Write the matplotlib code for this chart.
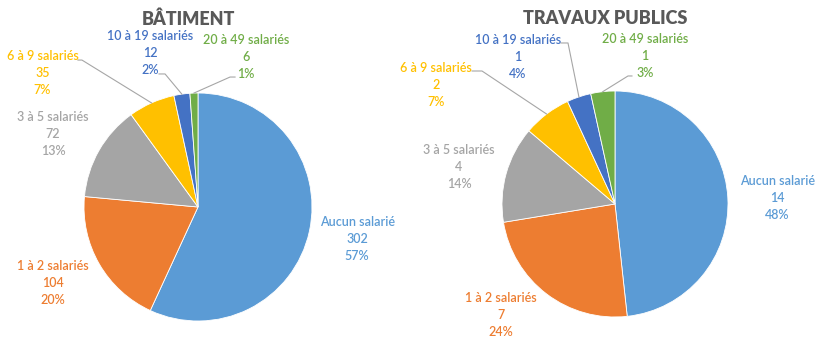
import numpy as np
import matplotlib
matplotlib.use("Agg")
import matplotlib.pyplot as plt

plt.rcParams['font.family'] = ['Lato', 'DejaVu Sans']

categories = ["Aucun salarié", "1 à 2 salariés", "3 à 5 salariés",
              "6 à 9 salariés", "10 à 19 salariés", "20 à 49 salariés"]
batiment_values = [302, 104, 72, 35, 12, 6]
batiment_pct = ["57%", "20%", "13%", "7%", "2%", "1%"]
tp_values = [14, 7, 4, 2, 1, 1]
tp_pct = ["48%", "24%", "14%", "7%", "4%", "3%"]

colors = ["#5B9BD5", "#ED7D31", "#A5A5A5", "#FFC000", "#4472C4", "#70AD47"]
W, H = 827, 347


def pie_panel(fig, title, title_xy, center, radius, values, pcts, label_pos, leaders):
    cx, cy = center
    ax = fig.add_axes([(cx - radius) / W, (H - cy - radius) / H,
                       2 * radius / W, 2 * radius / H])
    wedges, _ = ax.pie(values, colors=colors, startangle=90, counterclock=False,
                       wedgeprops=dict(edgecolor="white", linewidth=0.6))
    ax.set_xlim(-1, 1)
    ax.set_ylim(-1, 1)
    ax.set_aspect("equal")
    ax.axis("off")

    for i, (name, v, p) in enumerate(zip(categories, values, pcts)):
        lx, ly = label_pos[i]
        ax.text(lx, ly, f"{name}\n{v}\n{p}", color=colors[i], fontsize=9,
                fontweight="semibold", ha="center", va="center",
                linespacing=1.5, clip_on=False)
        if i in leaders:
            (ex, ey), (tx, ty) = leaders[i]
            mid = np.deg2rad((wedges[i].theta1 + wedges[i].theta2) / 2)
            ax.plot([np.cos(mid), ex, tx], [np.sin(mid), ey, ty],
                    color="#A6A6A6", lw=0.8, clip_on=False)

    fig.text(title_xy[0] / W, 1 - title_xy[1] / H, title, ha="center", va="center",
             fontsize=13, fontweight="heavy", color="#595959")


fig = plt.figure(figsize=(W / 100, H / 100), dpi=100)

pie_panel(fig, "BÂTIMENT", (188, 19), (198, 207), 114,
          batiment_values, batiment_pct,
          [(1.395, -0.281), (-1.272, -0.667), (-1.272, 0.640),
           (-1.364, 1.175), (-0.421, 1.351), (0.421, 1.316)],
          {3: ((-1.018, 1.289), (-1.053, 1.289)),
           4: ((-0.289, 1.167), (-0.342, 1.167)),
           5: ((0.281, 1.140), (0.325, 1.140))})

pie_panel(fig, "TRAVAUX PUBLICS", (605, 18), (615, 204), 113,
          tp_values, tp_pct,
          [(1.434, 0.053), (-1.009, -0.982), (-1.381, 0.327),
           (-1.584, 1.053), (-0.858, 1.301), (0.265, 1.310)],
          {3: ((-1.177, 1.177), (-1.265, 1.177)),
           4: ((-0.416, 1.425), (-0.478, 1.425)),
           5: ((0.115, 1.133), (0.150, 1.133))})

fig.savefig("out.png", dpi=100)
